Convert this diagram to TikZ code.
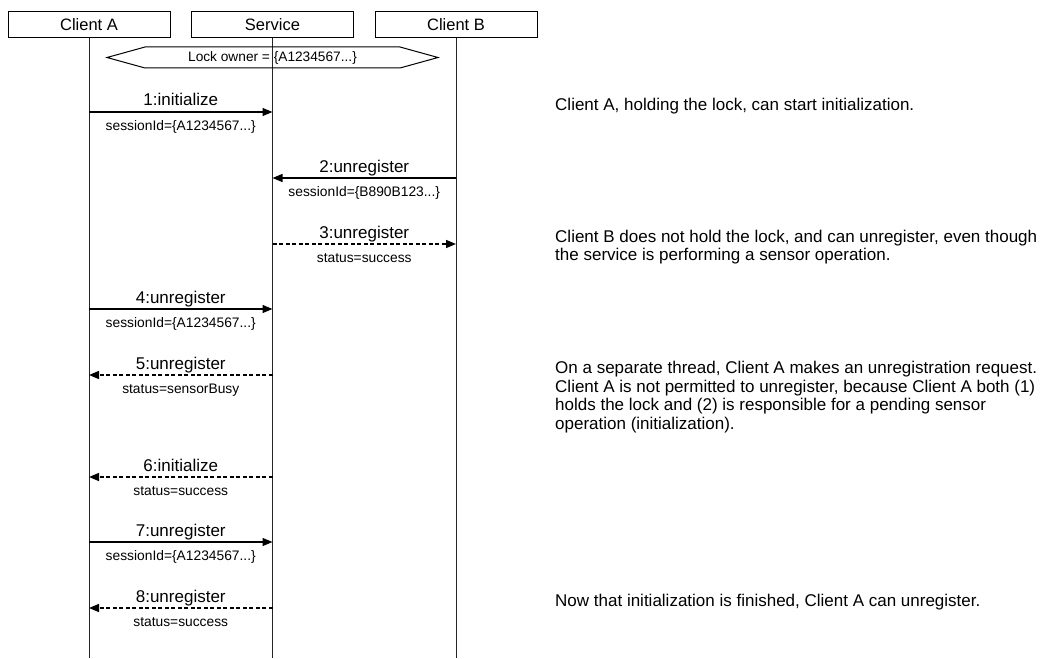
\documentclass[tikz,border=0pt]{standalone}
\usepackage{fontspec}
\setmainfont{Liberation Sans}
\usetikzlibrary{arrows.meta,positioning}

\begin{document}
\begin{tikzpicture}[
      x=1pt, y=-1pt,
      actor/.style={
        draw,
        line width=1pt,
        minimum width=162pt,
        minimum height=26pt,
        inner sep=0pt,
        font=\fontsize{16.5}{19}\selectfont
      },
      life/.style={line width=0.9pt,draw=black!85},
      call/.style={-{Triangle[length=10pt,width=8pt]},line width=1.3pt},
      reply/.style={call,dash pattern=on 4pt off 2.5pt},
      msg/.style={anchor=base,yshift=6pt,inner sep=0pt,font=\fontsize{17}{19}\selectfont},
      arg/.style={anchor=base,yshift=-18pt,inner sep=0pt,font=\fontsize{13.8}{16}\selectfont},
      remark/.style={anchor=north west,align=left,inner sep=0pt,font=\fontsize{17}{18.7}\selectfont}
    ]
    \useasboundingbox (0,0) rectangle (1043,658);
    % participants
    \node[actor] (clientA) at (89,25) {Client A};
    \node[actor] (service) at (272.5,25) {Service};
    \node[actor] (clientB) at (456,25) {Client B};
    \coordinate (bottom) at (0,658);
    \draw[life] (clientA) -- (clientA |- bottom);
    \draw[life] (service) -- (service |- bottom);
    \draw[life] (clientB) -- (clientB |- bottom);
    % lock owner
    \draw[line width=1pt] (107,57.5) -- (145,47) -- (400,47) -- (438,57.5) -- (400,68) -- (145,68) -- cycle;
    \node[inner sep=0pt,font=\fontsize{13.7}{16}\selectfont] (lock) at (272.5,57.5) {Lock owner = \{A1234567...\}};
    % message rows
    \foreach \i/\y in {1/112,2/178,3/244,4/309,5/375,6/477,7/542,8/608}{
      \coordinate (A\i) at (89,\y);
      \coordinate (S\i) at (272.5,\y);
      \coordinate (B\i) at (456,\y);
    }
    \draw[call] (A1) -- node[msg] {1:initialize} node[arg] {sessionId=\{A1234567...\}} (S1);
    \draw[call] (B2) -- node[msg] {2:unregister} node[arg] {sessionId=\{B890B123...\}} (S2);
    \draw[reply] (S3) -- node[msg] {3:unregister} node[arg] {status=success} (B3);
    \draw[call] (A4) -- node[msg] {4:unregister} node[arg] {sessionId=\{A1234567...\}} (S4);
    \draw[reply] (S5) -- node[msg] {5:unregister} node[arg] {status=sensorBusy} (A5);
    \draw[reply] (S6) -- node[msg] {6:initialize} node[arg] {status=success} (A6);
    \draw[call] (A7) -- node[msg] {7:unregister} node[arg] {sessionId=\{A1234567...\}} (S7);
    \draw[reply] (S8) -- node[msg] {8:unregister} node[arg] {status=success} (A8);
    % remarks
    \node[remark] (note1) at (555,98) {Client A, holding the lock, can start initialization.};
    \node[remark] (note2) at (555,229.5) {Client B does not hold the lock, and can unregister, even though\\the service is performing a sensor operation.};
    \node[remark] (note3) at (555,361) {On a separate thread, Client A makes an unregistration request.\\Client A is not permitted to unregister, because Client A both (1)\\holds the lock and (2) is responsible for a pending sensor\\operation (initialization).};
    \node[remark] (note4) at (555,594) {Now that initialization is finished, Client A can unregister.};
  \end{tikzpicture}
\end{document}
